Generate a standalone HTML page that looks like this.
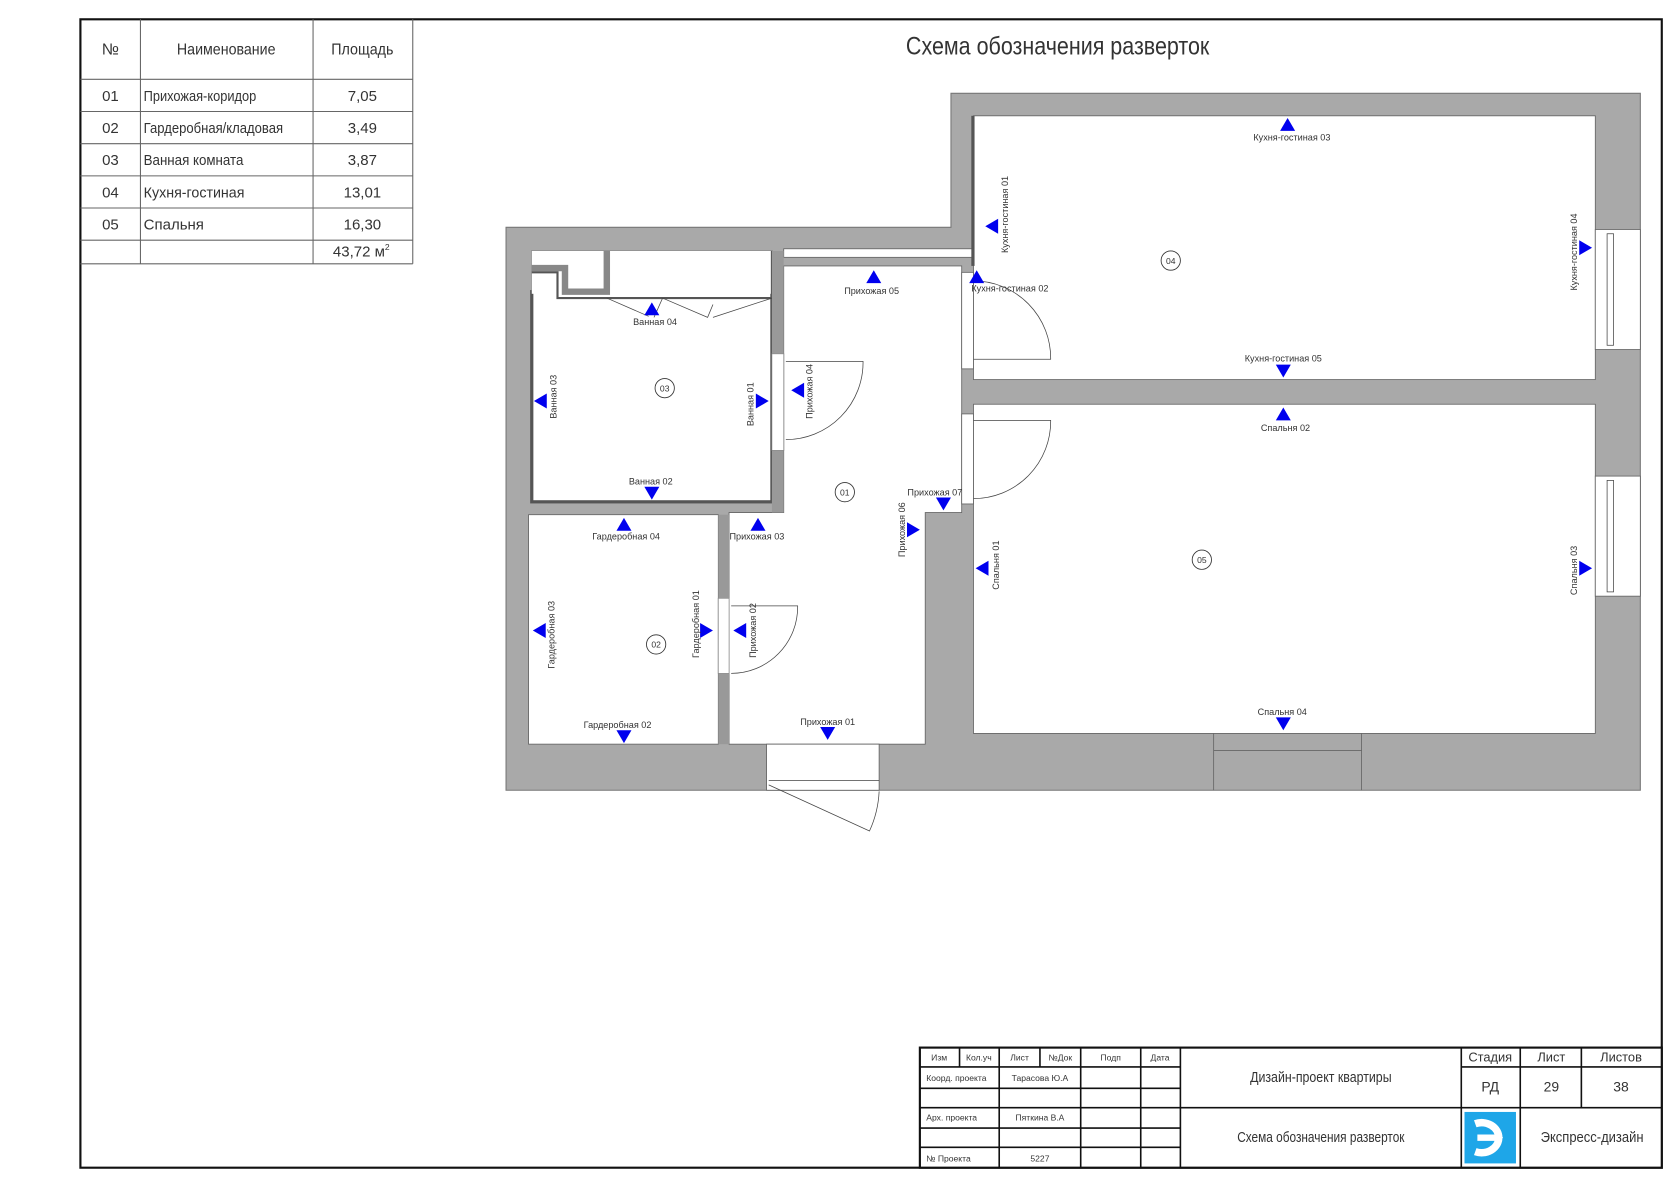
<!DOCTYPE html>
<html><head><meta charset="utf-8"><style>
html,body{margin:0;padding:0;background:#fff;}
svg{display:block;}
text{font-family:"Liberation Sans Narrow","Liberation Sans",sans-serif;fill:#333;}
</style></head><body>
<svg width="1680" height="1187" viewBox="0 0 1567 1107" preserveAspectRatio="none" xmlns="http://www.w3.org/2000/svg">
<defs>
<path id="tu" d="M-7,6 L7,6 L0,-6 Z" fill="#0000ee"/>
<path id="td" d="M-7,-6 L7,-6 L0,6 Z" fill="#0000ee"/>
<path id="tl" d="M6,-7 L6,7 L-6,0 Z" fill="#0000ee"/>
<path id="tr" d="M-6,-7 L-6,7 L6,0 Z" fill="#0000ee"/>
</defs>
<rect x="75" y="18" width="1475" height="1071" fill="none" stroke="#111" stroke-width="2"/>
<g stroke="#666" stroke-width="1" fill="none">
<line x1="131" y1="18" x2="131" y2="246"/><line x1="292" y1="18" x2="292" y2="246"/><line x1="385" y1="18" x2="385" y2="246"/>
<line x1="75" y1="74" x2="385" y2="74"/><line x1="75" y1="104" x2="385" y2="104"/><line x1="75" y1="134" x2="385" y2="134"/>
<line x1="75" y1="164" x2="385" y2="164"/><line x1="75" y1="194" x2="385" y2="194"/><line x1="75" y1="224" x2="385" y2="224"/><line x1="75" y1="246" x2="385" y2="246"/>
</g>
<g font-size="15">
<text x="103" y="51" text-anchor="middle">№</text><text x="211" y="51" text-anchor="middle" textLength="92" lengthAdjust="spacingAndGlyphs">Наименование</text><text x="338" y="51" text-anchor="middle" textLength="58" lengthAdjust="spacingAndGlyphs">Площадь</text>
<text x="103" y="94" text-anchor="middle" font-size="14">01</text><text x="134" y="94" font-size="14" textLength="105" lengthAdjust="spacingAndGlyphs">Прихожая-коридор</text><text x="338" y="94" text-anchor="middle" font-size="14">7,05</text>
<text x="103" y="124" text-anchor="middle" font-size="14">02</text><text x="134" y="124" font-size="14" textLength="130" lengthAdjust="spacingAndGlyphs">Гардеробная/кладовая</text><text x="338" y="124" text-anchor="middle" font-size="14">3,49</text>
<text x="103" y="154" text-anchor="middle" font-size="14">03</text><text x="134" y="154" font-size="14" textLength="93" lengthAdjust="spacingAndGlyphs">Ванная комната</text><text x="338" y="154" text-anchor="middle" font-size="14">3,87</text>
<text x="103" y="184" text-anchor="middle" font-size="14">04</text><text x="134" y="184" font-size="14" textLength="94" lengthAdjust="spacingAndGlyphs">Кухня-гостиная</text><text x="338" y="184" text-anchor="middle" font-size="14">13,01</text>
<text x="103" y="214" text-anchor="middle" font-size="14">05</text><text x="134" y="214" font-size="14">Спальня</text><text x="338" y="214" text-anchor="middle" font-size="14">16,30</text>
<text x="337" y="239" text-anchor="middle" font-size="14">43,72 м<tspan font-size="8" dy="-6">2</tspan></text>
</g>
<text x="845" y="51" font-size="23" textLength="283" lengthAdjust="spacingAndGlyphs">Схема обозначения разверток</text>

<path d="M472,212 L887,212 L887,87 L1530,87 L1530,737 L472,737 Z" fill="#a9a9a9" stroke="#777" stroke-width="1"/>
<g fill="#fff" stroke="#666" stroke-width="0.8">
<rect x="908" y="108" width="580" height="246"/>
<rect x="1488" y="214" width="42" height="112"/>
<rect x="908" y="377" width="580" height="307"/>
<rect x="1488" y="444" width="42" height="112"/>
<path d="M731,248 L897,248 L897,478 L863,478 L863,694 L680,694 L680,478 L731,478 Z"/>
<rect x="731" y="232" width="177" height="8"/>
<rect x="715" y="694" width="105" height="43"/>
<rect x="496" y="234" width="224" height="234"/>
<rect x="493" y="480" width="177" height="214"/>
<rect x="720" y="330" width="11" height="90"/>
<rect x="670" y="558" width="10" height="70"/>
<rect x="897" y="254" width="11" height="90"/>
<rect x="897" y="386" width="11" height="84"/>
</g>
<rect x="496" y="272" width="224" height="196" fill="none" stroke="#555" stroke-width="3"/>
<rect x="496" y="234" width="224" height="40" fill="#fff"/>
<path d="M496,250 L527,250 L527,272 L566,272 L566,234" fill="none" stroke="#888" stroke-width="6"/>
<path d="M496,254 L520,254 L520,278 L720,278 L720,234" fill="none" stroke="#555" stroke-width="2"/>
<rect x="720" y="234" width="11" height="244" fill="#999"/>
<rect x="720" y="330" width="11" height="90" fill="#fff" stroke="#888" stroke-width="0.6"/>
<rect x="670" y="480" width="10" height="214" fill="#999"/>
<rect x="670" y="558" width="10" height="70" fill="#fff" stroke="#888" stroke-width="0.6"/>
<rect x="906" y="108" width="3" height="140" fill="#555"/>
<g fill="none" stroke="#444" stroke-width="0.7">
<path d="M566,278 L605,295 M618,278 L610,296 M618,278 L660,296 L665,284 M720,278 L665,296"/>
<path d="M733,337 L805,337 A72,72 0 0 1 733,410"/>
<path d="M682,565 L744,565 A62,62 0 0 1 682,628"/>
<path d="M908,335 L980,335 A72,72 0 0 0 908,262"/>
<path d="M908,392 L980,392 A72,72 0 0 1 908,465"/>
<path d="M717,732 L811,775 A100,100 0 0 0 820,738"/>
<line x1="717" y1="728" x2="820" y2="728"/>
<rect x="1499" y="218" width="6" height="104"/><rect x="1499" y="448" width="6" height="104"/>
</g>
<g fill="none" stroke="#666" stroke-width="0.8">
<line x1="1132" y1="684" x2="1132" y2="737"/><line x1="1270" y1="684" x2="1270" y2="737"/><line x1="1132" y1="700" x2="1270" y2="700"/>
</g>
<g fill="none" stroke="#333" stroke-width="0.8">
<circle cx="620" cy="362" r="9"/><circle cx="788" cy="459" r="9"/><circle cx="612" cy="601" r="9"/><circle cx="1092" cy="243" r="9"/><circle cx="1121" cy="522" r="9"/>
</g>
<g font-size="8" text-anchor="middle">
<text x="620" y="365">03</text><text x="788" y="462">01</text><text x="612" y="604">02</text><text x="1092" y="246">04</text><text x="1121" y="525">05</text>
</g>
<use href="#tu" x="815" y="258"/><use href="#tu" x="1201" y="116"/><use href="#tl" x="925" y="211"/><use href="#tu" x="911" y="258"/>
<use href="#tr" x="1479" y="231"/><use href="#td" x="1197" y="346"/><use href="#tu" x="1197" y="386"/><use href="#tl" x="916" y="530"/>
<use href="#tr" x="1479" y="530"/><use href="#td" x="1197" y="675"/><use href="#tu" x="608" y="288"/><use href="#tl" x="504" y="374"/>
<use href="#tr" x="711" y="374"/><use href="#tl" x="744" y="364"/><use href="#td" x="608" y="460"/><use href="#tu" x="582" y="489"/>
<use href="#tu" x="707" y="489"/><use href="#td" x="880" y="470"/><use href="#tr" x="852" y="494"/><use href="#tl" x="503" y="588"/>
<use href="#tr" x="659" y="588"/><use href="#tl" x="690" y="588"/><use href="#td" x="582" y="687"/><use href="#td" x="772" y="684"/>
<g font-size="8.5" text-anchor="middle">
<text x="813" y="274">Прихожая 05</text><text x="1205" y="131">Кухня-гостиная 03</text><text x="942" y="272">Кухня-гостиная 02</text>
<text x="1197" y="337">Кухня-гостиная 05</text><text x="1199" y="402">Спальня 02</text><text x="1196" y="667">Спальня 04</text>
<text x="611" y="303">Ванная 04</text><text x="607" y="452">Ванная 02</text><text x="584" y="503">Гардеробная 04</text>
<text x="706" y="503">Прихожая 03</text><text x="872" y="462">Прихожая 07</text><text x="576" y="679">Гардеробная 02</text><text x="772" y="676">Прихожая 01</text>
<text transform="translate(940,200) rotate(-90)">Кухня-гостиная 01</text>
<text transform="translate(1471,235) rotate(-90)">Кухня-гостиная 04</text>
<text transform="translate(932,527) rotate(-90)">Спальня 01</text>
<text transform="translate(1471,532) rotate(-90)">Спальня 03</text>
<text transform="translate(519,370) rotate(-90)">Ванная 03</text>
<text transform="translate(703,377) rotate(-90)">Ванная 01</text>
<text transform="translate(758,365) rotate(-90)">Прихожая 04</text>
<text transform="translate(844,494) rotate(-90)">Прихожая 06</text>
<text transform="translate(517,592) rotate(-90)">Гардеробная 03</text>
<text transform="translate(652,582) rotate(-90)">Гардеробная 01</text>
<text transform="translate(705,588) rotate(-90)">Прихожая 02</text>
</g>

<rect x="858" y="977" width="692" height="112" fill="#fff" stroke="#111" stroke-width="2"/>
<g stroke="#111" stroke-width="1.5" fill="none">
<line x1="895" y1="977" x2="895" y2="995"/><line x1="932" y1="977" x2="932" y2="1089"/><line x1="970" y1="977" x2="970" y2="995"/>
<line x1="1008" y1="977" x2="1008" y2="1089"/><line x1="1064" y1="977" x2="1064" y2="1089"/><line x1="1101" y1="977" x2="1101" y2="1089"/>
<line x1="1363" y1="977" x2="1363" y2="1089"/><line x1="1418" y1="977" x2="1418" y2="1089"/><line x1="1475" y1="977" x2="1475" y2="1033"/>
<line x1="858" y1="995" x2="1101" y2="995"/><line x1="858" y1="1015" x2="1101" y2="1015"/><line x1="858" y1="1033" x2="1550" y2="1033"/>
<line x1="858" y1="1052" x2="1101" y2="1052"/><line x1="858" y1="1070" x2="1101" y2="1070"/><line x1="1363" y1="995" x2="1550" y2="995"/>
</g>
<g font-size="8">
<text x="876" y="989" text-anchor="middle">Изм</text><text x="913" y="989" text-anchor="middle">Кол.уч</text><text x="951" y="989" text-anchor="middle">Лист</text>
<text x="989" y="989" text-anchor="middle">№Док</text><text x="1036" y="989" text-anchor="middle">Подп</text><text x="1082" y="989" text-anchor="middle">Дата</text>
<text x="864" y="1008">Коорд. проекта</text><text x="970" y="1008" text-anchor="middle">Тарасова Ю.А</text>
<text x="864" y="1045">Арх. проекта</text><text x="970" y="1045" text-anchor="middle">Пяткина В.А</text>
<text x="864" y="1083">№ Проекта</text><text x="970" y="1083" text-anchor="middle">5227</text>
</g>
<g font-size="14" text-anchor="middle">
<text x="1232" y="1009" textLength="132" lengthAdjust="spacingAndGlyphs">Дизайн-проект квартиры</text><text x="1232" y="1065" textLength="156" lengthAdjust="spacingAndGlyphs">Схема обозначения разверток</text>
<text x="1390" y="990" font-size="12">Стадия</text><text x="1447" y="990" font-size="12">Лист</text><text x="1512" y="990" font-size="12">Листов</text>
<text x="1390" y="1018" font-size="13">РД</text><text x="1447" y="1018" font-size="13">29</text><text x="1512" y="1018" font-size="13">38</text>
<text x="1485" y="1065" textLength="96" lengthAdjust="spacingAndGlyphs">Экспресс-дизайн</text>
</g>
<rect x="1366" y="1037" width="48" height="48" fill="#1ea6e8"/>
<path d="M1376,1048 A16,14 0 1 1 1376,1074" fill="none" stroke="#fff" stroke-width="7"/>
<path d="M1378,1058 L1394,1058 L1394,1053 L1402,1061 L1394,1069 L1394,1064 L1378,1064 Z" fill="#fff"/>
</svg>
</body></html>
